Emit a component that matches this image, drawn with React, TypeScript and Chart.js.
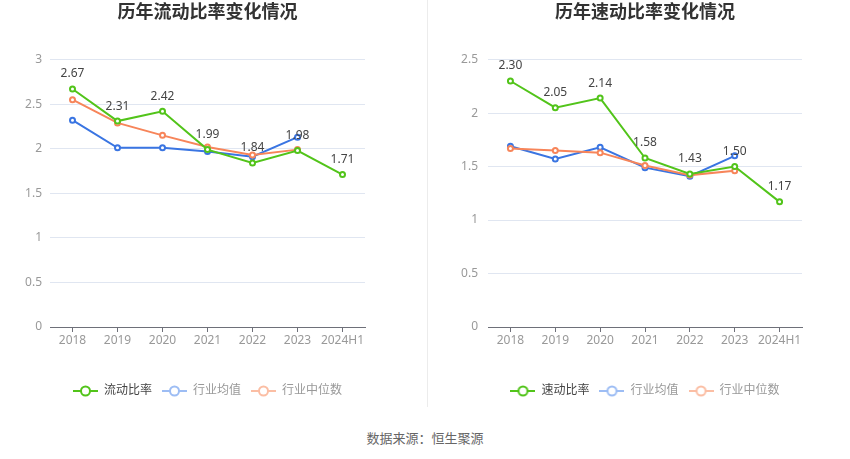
import { useEffect, useRef } from "react";
import { Chart, registerables, Plugin } from "chart.js";

Chart.register(...registerables);

const years = ["2018", "2019", "2020", "2021", "2022", "2023", "2024H1"];

// 流动比率
const currentRatio = [2.67, 2.31, 2.42, 1.99, 1.84, 1.98, 1.71];
const currentAvg = [2.32, 2.01, 2.01, 1.97, 1.91, 2.13, null];
const currentMedian = [2.55, 2.29, 2.15, 2.02, 1.93, 1.99, null];

// 速动比率
const quickRatio = [2.3, 2.05, 2.14, 1.58, 1.43, 1.5, 1.17];
const quickAvg = [1.69, 1.57, 1.68, 1.49, 1.41, 1.6, null];
const quickMedian = [1.67, 1.65, 1.63, 1.51, 1.42, 1.46, null];

const FONT = '"Noto Sans", "Noto Sans CJK SC", sans-serif';
const GREEN = "#52c41a";
const BLUE = "#3a75e2";
const ORANGE = "#f7855a";

const makeIcon = (color: string) => {
  const c = document.createElement("canvas");
  c.width = 25;
  c.height = 14;
  const ctx = c.getContext("2d");
  if (ctx) {
    ctx.strokeStyle = color;
    ctx.lineWidth = 2;
    ctx.beginPath();
    ctx.moveTo(0, 7);
    ctx.lineTo(25, 7);
    ctx.stroke();
    ctx.beginPath();
    ctx.arc(12.5, 7, 4.5, 0, Math.PI * 2);
    ctx.fillStyle = "#fff";
    ctx.fill();
    ctx.stroke();
  }
  return c;
};

// value labels over the main series only
const valueLabels: Plugin<"line"> = {
  id: "valueLabels",
  afterDatasetsDraw(chart) {
    const ctx = chart.ctx;
    const meta = chart.getDatasetMeta(0);
    const values = chart.data.datasets[0].data as number[];
    ctx.save();
    ctx.font = `12px ${FONT}`;
    ctx.fillStyle = "#444";
    ctx.textAlign = "center";
    ctx.textBaseline = "middle";
    meta.data.forEach((pt, i) => {
      ctx.fillText(values[i].toFixed(2), pt.x, pt.y - 15);
    });
    ctx.restore();
  },
};

interface Props {
  title: string;
  mainLabel: string;
  main: number[];
  avg: (number | null)[];
  median: (number | null)[];
  yMax: number;
  yWidth: number;
  yPad: number;
  width: number;
  padRight: number;
}

const RatioChart = ({ title, mainLabel, main, avg, median, yMax, yWidth, yPad, width, padRight }: Props) => {
  const chartRef = useRef<HTMLCanvasElement>(null);

  useEffect(() => {
    let chartInstance: Chart<"line"> | null = null;
    if (chartRef.current) {
      const legendItems = [
        { text: mainLabel, icon: makeIcon(GREEN), fontColor: "#444" },
        { text: "行业均值", icon: makeIcon("#9dbdf4"), fontColor: "#999" },
        { text: "行业中位数", icon: makeIcon("#fbbea4"), fontColor: "#999" },
      ];

      const point = (color: string) => ({
        borderColor: color,
        backgroundColor: color,
        pointBackgroundColor: "#fff",
        pointBorderColor: color,
        pointBorderWidth: 2,
        pointRadius: 2.5,
        borderWidth: 2,
        tension: 0,
        spanGaps: false,
      });

      chartInstance = new Chart(chartRef.current, {
        type: "line",
        data: {
          labels: years,
          datasets: [
            { label: mainLabel, data: main, ...point(GREEN), order: 0 },
            { label: "行业均值", data: avg, ...point(BLUE), order: 2 },
            { label: "行业中位数", data: median, ...point(ORANGE), order: 1 },
          ],
        },
        options: {
          responsive: false,
          animation: false,
          layout: { padding: { top: 0, left: 0, right: padRight, bottom: 3 } },
          plugins: {
            tooltip: { enabled: false },
            title: {
              display: true,
              text: title,
              fullSize: false,
              color: "#333",
              font: { family: FONT, size: 18, weight: "bold" },
              padding: { top: 2, bottom: 36 },
            },
            legend: {
              display: true,
              position: "bottom",
              fullSize: false,
              onClick: () => {},
              labels: {
                usePointStyle: true,
                pointStyleWidth: 25,
                padding: 10,
                font: { family: FONT, size: 12 },
                generateLabels: () =>
                  legendItems.map((it, i) => ({
                    text: it.text,
                    fontColor: it.fontColor,
                    pointStyle: it.icon,
                    datasetIndex: i,
                    hidden: false,
                    lineWidth: 0,
                    fillStyle: "#fff",
                    strokeStyle: "#fff",
                  })),
              },
            },
          },
          scales: {
            x: {
              offset: true,
              grid: {
                offset: false,
                drawOnChartArea: false,
                drawTicks: true,
                tickLength: 5,
                color: "#6e7079",
              },
              border: { display: true, color: "#6e7079", width: 1 },
              ticks: {
                color: "#999",
                padding: 1,
                maxRotation: 0,
                autoSkip: false,
                font: { family: FONT, size: 12 },
              },
              afterFit: (scale) => {
                scale.height = 48;
              },
            },
            y: {
              min: 0,
              max: yMax,
              grid: { color: "#e0e6f1", drawTicks: false },
              border: { display: false },
              ticks: {
                stepSize: 0.5,
                color: "#999",
                padding: yPad,
                font: { family: FONT, size: 12 },
                callback: (value) => `${Number(value)}`,
              },
              afterFit: (scale) => {
                scale.width = yWidth;
              },
            },
          },
        },
        plugins: [valueLabels],
      });
    }
    return () => {
      if (chartInstance) {
        chartInstance.destroy();
      }
    };
  }, []);

  return <canvas ref={chartRef} width={width} height={410} style={{ width, height: 410, display: "block" }} />;
};

const App = () => {
  return (
    <div
      style={{
        position: "absolute",
        left: 0,
        top: 0,
        width: 850,
        height: 459,
        background: "#fff",
        fontFamily: FONT,
        overflow: "hidden",
      }}
    >
      <div style={{ position: "absolute", left: 0, top: 0 }}>
        <RatioChart
          title="历年流动比率变化情况"
          mainLabel="流动比率"
          main={currentRatio}
          avg={currentAvg}
          median={currentMedian}
          yMax={3}
          yWidth={50}
          yPad={8}
          width={428}
          padRight={63}
        />
      </div>
      <div style={{ position: "absolute", left: 427, top: 0, width: 1, height: 407, background: "#ececec" }} />
      <div style={{ position: "absolute", left: 428, top: 0 }}>
        <RatioChart
          title="历年速动比率变化情况"
          mainLabel="速动比率"
          main={quickRatio}
          avg={quickAvg}
          median={quickMedian}
          yMax={2.5}
          yWidth={60}
          yPad={10}
          width={422}
          padRight={48}
        />
      </div>
      <div
        style={{
          position: "absolute",
          left: 0,
          top: 429,
          width: 850,
          textAlign: "center",
          fontSize: 13,
          lineHeight: "18px",
          color: "#666",
        }}
      >
        数据来源：恒生聚源
      </div>
    </div>
  );
};

export default App;
